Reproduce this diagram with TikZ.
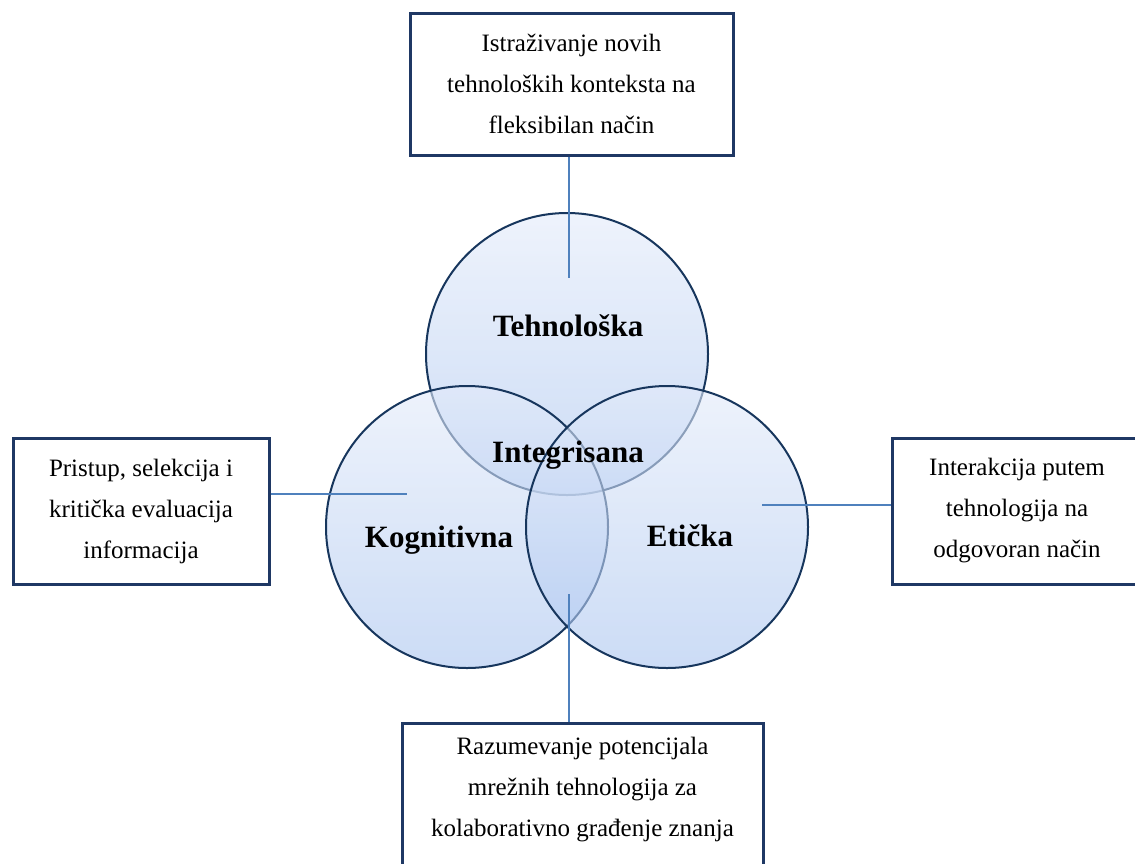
\documentclass[tikz,border=0pt]{standalone}
\usepackage{fontspec}
\setmainfont{Liberation Serif}
\usetikzlibrary{positioning}
\definecolor{krugRub}{RGB}{23,54,93}
\definecolor{okvirPlavi}{RGB}{31,56,100}
\definecolor{vezaPlava}{RGB}{79,129,189}
\definecolor{krugGore}{RGB}{227,235,250}
\definecolor{krugDole}{RGB}{170,197,240}
\tikzstyle{krug} = [circle, minimum size = 282pt, draw = krugRub, line width = 2pt, top color = krugGore, bottom color = krugDole, fill opacity = 0.6]
\tikzstyle{oblast} = [font = \fontsize{31}{36}\selectfont\bfseries, anchor = base]
\tikzstyle{infobox} = [rectangle, draw = okvirPlavi, line width = 3pt, fill = white, align = center, font = \fontsize{25}{41}\selectfont]
\tikzstyle{tekst} = [align = center, font = \fontsize{25}{41}\selectfont]
\tikzstyle{veza} = [draw = vezaPlava, line width = 2pt]

\begin{document}
\begin{tikzpicture}[x = 1pt, y = -1pt]
\fill [white] (0,0) rectangle (1135,863);
\clip (0,0) rectangle (1135,863);

\node (tehCircle) [krug] at (567,354) {};
\node (kogCircle) [krug] at (467,527) {};
\node (etCircle) [krug] at (667,527) {};

\node (tehLabel) [oblast] at (568,336) {Tehnološka};
\node (intLabel) [oblast] at (568,462) {Integrisana};
\node (kogLabel) [oblast] at (439,547) {Kognitivna};
\node (etLabel) [oblast] at (690,546) {Etička};

\node (tehBox) [infobox, minimum width = 323pt, minimum height = 142pt] at (571.5,84) {Istraživanje novih\\tehnoloških konteksta na\\fleksibilan način};
\node (kogBox) [infobox, minimum width = 256pt, minimum height = 146pt] at (141,511) {Pristup, selekcija i\\kritička evaluacija\\informacija};
\node (etBox) [infobox, minimum width = 250pt, minimum height = 146pt] at (1017,511) {Interakcija putem\\tehnologija na\\odgovoran način};
\node (razBox) [infobox, minimum width = 361pt, minimum height = 160pt, anchor = north] at (582.5,722) {};
\node (razText) [tekst] at (582.5,790) {Razumevanje potencijala\\mrežnih tehnologija za\\kolaborativno građenje znanja};

\coordinate (tehEnd) at (569,278);
\coordinate (kogEnd) at (407,494);
\coordinate (etEnd) at (762,505);
\coordinate (razEnd) at (569,594);

\draw [veza] (tehEnd |- tehBox.south) -- (tehEnd);
\draw [veza] (kogBox.east |- kogEnd) -- (kogEnd);
\draw [veza] (etBox.west |- etEnd) -- (etEnd);
\draw [veza] (razEnd) -- (razEnd |- razBox.north);
\end{tikzpicture}
\end{document}
